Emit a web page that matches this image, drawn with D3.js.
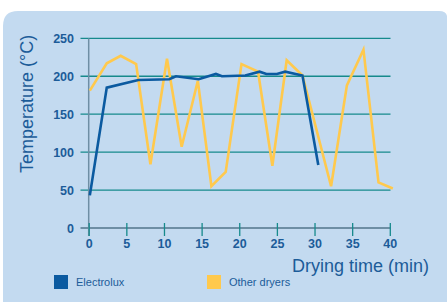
<!DOCTYPE html>
<html><head><meta charset="utf-8">
<script src="https://cdn.jsdelivr.net/npm/d3@7"></script>
<style>html,body{margin:0;padding:0;background:#fff;}svg{display:block;}</style>
</head><body>
<svg id="c" width="447" height="302"></svg>
<script>
const electroluxX = [0.15, 2.4, 6.6, 10.7, 11.6, 14.6, 16.9, 17.7, 20.8, 22.7, 23.6, 25.0, 26.1, 28.4, 30.5];
const electroluxY = [43, 185, 195, 196, 200, 196, 203, 200, 201, 206, 203, 203, 206, 201, 83];
const otherX = [0.15, 2.4, 4.25, 6.3, 8.2, 10.4, 12.35, 14.5, 16.3, 18.2, 20.3, 22.5, 24.4, 26.3, 28.4, 32.2, 34.3, 36.5, 38.5, 40.4];
const otherY = [181, 217, 227, 216, 84, 223, 107, 194, 55, 74, 216, 206, 82, 221, 201, 55, 188, 235, 60, 52];
const xTicks = [0, 5, 10, 15, 20, 25, 30, 35, 40];
const yTicks = [0, 50, 100, 150, 200, 250];
const seriesNames = ["Electrolux", "Other dryers"];
const colors = ["#0b5aa0", "#ffc94d"];

const svg = d3.select("#c");
const font = "'Liberation Sans', Arial, sans-serif";
const labelColor = "#1c5c99";

// panel
svg.append("path")
  .attr("d", "M3,302 L3,26 Q3,11 18,11 L439,11 Q446,11 447,16 L447,302 Z")
  .attr("fill", "#c3daf0");

const x = d3.scaleLinear().domain([0, 40]).range([88.7, 389.8]);
const y = d3.scaleLinear().domain([0, 250]).range([228, 38.3]);

// grid
svg.append("g").selectAll("line").data(yTicks.filter(d => d > 0)).join("line")
  .attr("x1", 80.5).attr("x2", 390.5)
  .attr("y1", d => y(d)).attr("y2", d => y(d))
  .attr("stroke", "#168a8c").attr("stroke-width", 1.3);

// y axis line
svg.append("line").attr("x1", x(0)).attr("x2", x(0)).attr("y1", y(250)).attr("y2", 236)
  .attr("stroke", "#6e8ea4").attr("stroke-width", 1.5);
// baseline
svg.append("line").attr("x1", 80.5).attr("x2", 390.5).attr("y1", y(0)).attr("y2", y(0))
  .attr("stroke", "#6e8ea4").attr("stroke-width", 2);

// x axis ticks and labels
const xAxis = d3.axisBottom(x).tickValues(xTicks).tickSize(0).tickPadding(0);
const gx = svg.append("g").attr("transform", `translate(0,${y(0)})`).call(xAxis);
gx.select(".domain").remove();
gx.selectAll(".tick").append("line").attr("y1", -5).attr("y2", 8)
  .attr("stroke", "#168a8c").attr("stroke-width", 1.3);
gx.selectAll(".tick text").attr("y", 16).attr("dy", "0.32em")
  .attr("font-family", font).attr("font-size", 12.5).attr("font-weight", "bold")
  .attr("fill", labelColor);

// y axis labels
const yAxis = d3.axisLeft(y).tickValues(yTicks).tickSize(0).tickPadding(0);
const gy = svg.append("g").attr("transform", `translate(74,0)`).call(yAxis);
gy.select(".domain").remove();
gy.selectAll(".tick text").attr("x", 0).attr("dy", "0.36em")
  .attr("font-family", font).attr("font-size", 12.5).attr("font-weight", "bold")
  .attr("fill", labelColor);

// lines
const line = d3.line().x(d => x(d[0])).y(d => y(d[1]));
const otherData = otherX.map((v, i) => [v, otherY[i]]);
const elxData = electroluxX.map((v, i) => [v, electroluxY[i]]);
svg.append("path").attr("d", line(otherData)).attr("fill", "none")
  .attr("stroke", colors[1]).attr("stroke-width", 2.6).attr("stroke-linejoin", "miter");
svg.append("path").attr("d", line(elxData)).attr("fill", "none")
  .attr("stroke", colors[0]).attr("stroke-width", 2.6).attr("stroke-linejoin", "miter");

// titles
svg.append("text").attr("transform", "translate(33,104) rotate(-90)")
  .attr("text-anchor", "middle").attr("font-family", font).attr("font-size", 18)
  .attr("fill", labelColor).text("Temperature (°C)");
svg.append("text").attr("x", 429).attr("y", 272).attr("text-anchor", "end")
  .attr("font-family", font).attr("font-size", 18)
  .attr("fill", labelColor).text("Drying time (min)");

// legend
const legX = [54, 207];
seriesNames.forEach((n, i) => {
  svg.append("rect").attr("x", legX[i]).attr("y", 275).attr("width", 14).attr("height", 14)
    .attr("fill", colors[i]);
  svg.append("text").attr("x", legX[i] + 22).attr("y", 286)
    .attr("font-family", font).attr("font-size", 11).attr("fill", labelColor).text(n);
});
</script>
</body></html>
